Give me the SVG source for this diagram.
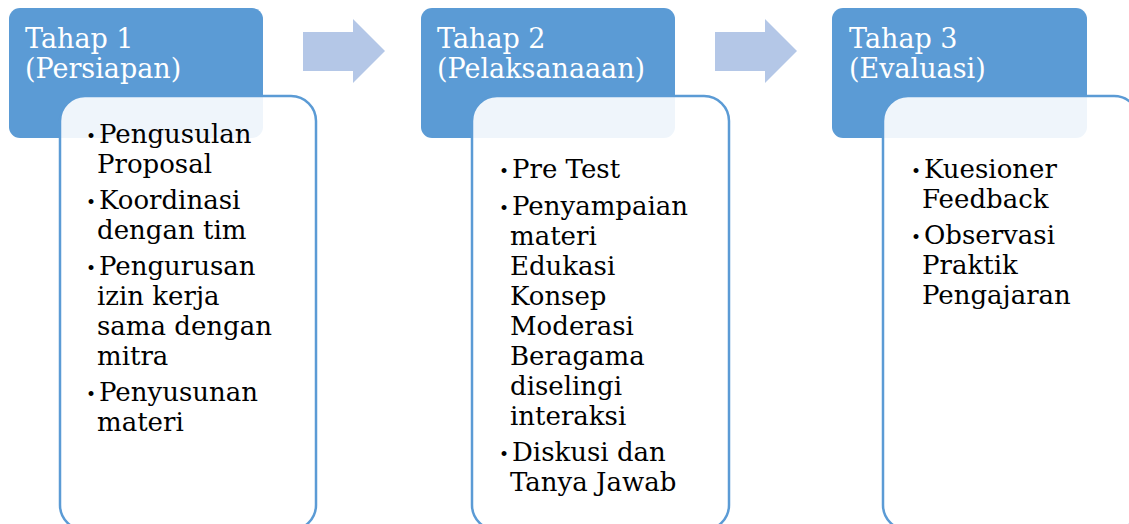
<svg xmlns="http://www.w3.org/2000/svg" width="1129" height="524" viewBox="0 0 1129 524">
<style>
.hdr{fill:#5B9BD5}
.body{fill:#FFFFFF;fill-opacity:0.9;stroke:#5B9BD5;stroke-width:2.5}
.arr{fill:#B4C7E7}
text{font-family:"DejaVu Serif","Liberation Serif",serif;font-size:26px}
.ht{fill:#FFFFFF;font-size:27px}
.bt{fill:#000000}
.bul{font-size:17px}
</style>
<rect width="1129" height="524" fill="#FFFFFF"/>
<g id="connectors">
<polygon class="arr" points="303,32 353,32 353,19 385,51 353,83 353,71 303,71"/>
<polygon class="arr" points="715,32 765,32 765,19 797,51 765,83 765,71 715,71"/>
</g>
<g id="tahap1">
<rect class="hdr" x="9" y="8" width="254" height="130" rx="11"/>
<text class="ht" x="25" y="48">Tahap 1</text>
<text class="ht" x="25" y="78">(Persiapan)</text>
</g>
<g id="isi1">
<rect class="body" x="60" y="96" width="256" height="434" rx="25"/>
<g class="bt">
<text class="bul" x="86" y="142">•</text><text x="99" y="143">Pengusulan</text>
<text x="97" y="173">Proposal</text>
<text class="bul" x="86" y="208">•</text><text x="99" y="209">Koordinasi</text>
<text x="97" y="239">dengan tim</text>
<text class="bul" x="86" y="274">•</text><text x="99" y="275">Pengurusan</text>
<text x="97" y="305">izin kerja</text>
<text x="97" y="335">sama dengan</text>
<text x="97" y="365">mitra</text>
<text class="bul" x="86" y="400">•</text><text x="99" y="401">Penyusunan</text>
<text x="97" y="431">materi</text>
</g>
</g>
<g id="tahap2">
<rect class="hdr" x="421" y="8" width="254" height="130" rx="11"/>
<text class="ht" x="437" y="48">Tahap 2</text>
<text class="ht" x="437" y="78">(Pelaksanaaan)</text>
</g>
<g id="isi2">
<rect class="body" x="472" y="96" width="257" height="434" rx="25"/>
<g class="bt">
<text class="bul" x="499" y="177">•</text><text x="512" y="178">Pre Test</text>
<text class="bul" x="499" y="214">•</text><text x="512" y="215">Penyampaian</text>
<text x="510" y="245">materi</text>
<text x="510" y="275">Edukasi</text>
<text x="510" y="305">Konsep</text>
<text x="510" y="335">Moderasi</text>
<text x="510" y="365">Beragama</text>
<text x="510" y="395">diselingi</text>
<text x="510" y="425">interaksi</text>
<text class="bul" x="499" y="460">•</text><text x="512" y="461">Diskusi dan</text>
<text x="510" y="491">Tanya Jawab</text>
</g>
</g>
<g id="tahap3">
<rect class="hdr" x="832" y="8" width="255" height="130" rx="11"/>
<text class="ht" x="849" y="48">Tahap 3</text>
<text class="ht" x="849" y="78">(Evaluasi)</text>
</g>
<g id="isi3">
<rect class="body" x="883" y="96" width="256" height="434" rx="25"/>
<g class="bt">
<text class="bul" x="911" y="177">•</text><text x="924" y="178">Kuesioner</text>
<text x="922" y="208">Feedback</text>
<text class="bul" x="911" y="243">•</text><text x="924" y="244">Observasi</text>
<text x="922" y="274">Praktik</text>
<text x="922" y="304">Pengajaran</text>
</g>
</g>
</svg>
